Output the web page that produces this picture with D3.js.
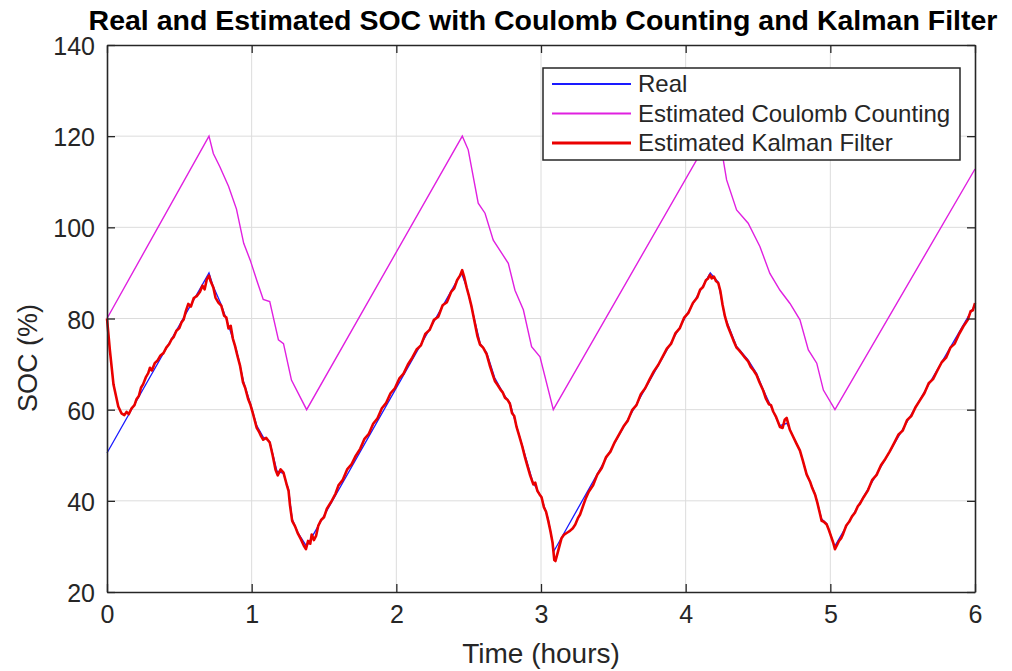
<!DOCTYPE html>
<html>
<head>
<meta charset="utf-8">
<script src="https://cdn.jsdelivr.net/npm/d3@7"></script>
<style>
  html, body { margin: 0; padding: 0; background: #fff; }
  #container { width: 1012px; height: 671px; }
  text { font-family: "Liberation Sans", Arial, sans-serif; }
</style>
</head>
<body>
<div id="container"></div>
<script>
// [hours, SOC %]
const realSoc = [
  [0, 50.5], [0.705, 90], [0.735, 87], [0.79, 83], [0.84, 78.5], [0.9, 72.5], [0.945, 66],
  [0.99, 61.5], [1.035, 56.5], [1.08, 54], [1.125, 53], [1.175, 46.5], [1.22, 46], [1.255, 42.5],
  [1.28, 36], [1.32, 33], [1.38, 30],
  [2.45, 90], [2.49, 86.5], [2.52, 82.5], [2.58, 74.5], [2.625, 72.5], [2.68, 67], [2.75, 63],
  [2.785, 61.5], [2.83, 56.5], [2.89, 50], [2.945, 44], [3.0, 41], [3.05, 36], [3.09, 29],
  [4.17, 90], [4.225, 88], [4.27, 80.5], [4.35, 74], [4.43, 71], [4.49, 68], [4.535, 64.5],
  [4.6, 60], [4.65, 56.5], [4.7, 57], [4.745, 54], [4.79, 51], [4.835, 46], [4.895, 41.5],
  [4.94, 36], [4.975, 35], [5.03, 30],
  [6, 83]
];

const coulombSoc = [
  [0, 80], [0.705, 120], [0.735, 116.2], [0.78, 113.3], [0.84, 109], [0.895, 104], [0.945, 96.5],
  [0.99, 92.8], [1.035, 88.4], [1.08, 84.2], [1.125, 83.7], [1.185, 75.3], [1.22, 74.5],
  [1.275, 66.5], [1.38, 60],
  [2.456, 120], [2.497, 117], [2.566, 105.3], [2.613, 103.1], [2.67, 97.2], [2.774, 92.1],
  [2.82, 86.2], [2.878, 81.9], [2.935, 73.8], [2.993, 71.6], [3.085, 60],
  [4.17, 120], [4.26, 114.8], [4.283, 110.4], [4.352, 103.8], [4.432, 100.9], [4.513, 95.8],
  [4.582, 89.9], [4.652, 86.2], [4.721, 83.3], [4.79, 79.7], [4.848, 73.1], [4.906, 70.2],
  [4.952, 64.3], [5.032, 60],
  [6, 112.8]
];

const kalmanSoc = [
  [0, 80], [0.02, 73], [0.045, 65.5], [0.078, 60.7], [0.1, 59.2], [0.12, 58.8], [0.135, 59.5],
  [0.15, 59.0], [0.17, 60.3], [0.19, 61.0], [0.204, 62.3], [0.22, 63.0], [0.235, 64.8], [0.25, 65.6],
  [0.27, 67.2], [0.285, 68.0], [0.297, 69.2], [0.31, 68.6], [0.33, 70.2], [0.35, 70.8], [0.37, 71.9],
  [0.39, 72.4], [0.41, 73.6], [0.43, 74.4], [0.446, 75.4], [0.46, 75.9], [0.48, 77.3], [0.5, 77.9],
  [0.516, 79.2], [0.53, 79.8], [0.545, 81.6], [0.562, 83.2], [0.58, 82.6], [0.6, 84.5], [0.62, 84.9],
  [0.642, 85.8], [0.66, 87.2], [0.675, 86.4], [0.69, 88.6], [0.705, 89.4], [0.715, 88.3],
  [0.735, 86.8], [0.75, 84.6], [0.77, 83.5], [0.79, 82.8], [0.81, 80.6], [0.825, 80.2], [0.84, 77.8],
  [0.855, 78.4], [0.87, 75.6], [0.885, 74.0], [0.9, 72.0], [0.92, 69.6], [0.94, 66.0], [0.955, 64.8],
  [0.975, 62.4], [0.99, 61.2], [1.01, 59.0], [1.035, 56.0], [1.05, 55.2], [1.065, 54.2], [1.08, 53.4],
  [1.1, 53.8], [1.125, 52.8], [1.145, 50.0], [1.165, 46.8], [1.18, 45.6], [1.2, 46.9], [1.22, 46.2],
  [1.24, 43.8], [1.255, 42.2], [1.265, 39.0], [1.28, 35.6], [1.3, 34.4], [1.32, 32.8], [1.34, 31.6],
  [1.36, 30.2], [1.375, 29.4], [1.39, 31.2], [1.405, 30.6], [1.415, 32.6], [1.43, 31.4], [1.445, 32.3],
  [1.46, 34.5], [1.48, 35.8], [1.5, 36.4], [1.52, 38.3], [1.55, 39.8], [1.58, 41.6], [1.6, 43.4],
  [1.63, 44.6], [1.66, 46.9], [1.69, 48.0], [1.72, 49.9], [1.75, 51.4], [1.78, 53.6], [1.81, 54.7],
  [1.84, 56.9], [1.87, 58.1], [1.9, 60.3], [1.93, 61.5], [1.96, 63.6], [1.99, 64.7], [2.02, 66.8],
  [2.05, 67.9], [2.08, 69.9], [2.11, 71.4], [2.14, 73.2], [2.17, 74.1], [2.2, 76.6], [2.23, 77.5],
  [2.26, 79.7], [2.29, 80.4], [2.32, 82.9], [2.35, 83.6], [2.38, 85.9], [2.4, 86.6], [2.42, 88.4],
  [2.44, 89.4], [2.455, 90.6], [2.47, 89.0],
  [2.486, 86.8], [2.5, 85.2], [2.52, 82.6], [2.54, 79.4], [2.56, 76.2], [2.578, 74.3], [2.6, 73.6],
  [2.624, 72.2], [2.645, 69.8], [2.665, 67.8], [2.681, 66.3], [2.7, 65.4], [2.72, 64.4], [2.735, 63.8],
  [2.751, 62.6], [2.77, 62.1], [2.785, 61.3], [2.8, 59.2], [2.815, 58.6], [2.831, 56.2], [2.85, 54.2],
  [2.87, 52.0], [2.889, 49.6], [2.905, 47.8], [2.925, 45.6], [2.947, 43.6], [2.96, 44.0], [2.975, 42.2],
  [2.99, 41.4], [3.004, 40.8], [3.02, 38.6], [3.035, 37.6], [3.05, 35.6], [3.065, 33.4], [3.08, 30.8],
  [3.092, 27.0], [3.1, 26.8], [3.115, 28.6], [3.13, 30.4], [3.142, 31.8], [3.16, 32.6], [3.18, 33.0],
  [3.2, 33.4], [3.22, 34.0], [3.237, 34.8], [3.255, 36.2], [3.27, 37.0],
  [3.29, 38.8], [3.31, 40.6], [3.33, 42.0], [3.36, 43.4], [3.39, 45.8], [3.42, 47.2], [3.45, 49.6],
  [3.48, 50.8], [3.51, 52.9], [3.54, 54.6], [3.57, 56.3], [3.6, 57.6], [3.63, 59.9], [3.66, 61.0],
  [3.69, 63.4], [3.72, 64.7], [3.75, 66.6], [3.78, 68.4], [3.81, 69.8], [3.84, 71.6], [3.87, 73.4],
  [3.9, 74.5], [3.93, 76.8], [3.96, 77.9], [3.99, 80.2], [4.02, 81.3], [4.05, 83.4], [4.08, 84.6],
  [4.1, 86.3], [4.12, 86.9], [4.14, 88.4], [4.155, 88.8], [4.168, 89.6], [4.18, 88.8], [4.195, 89.2],
  [4.21, 88.2], [4.225, 87.8], [4.24, 86.0],
  [4.255, 83.0], [4.272, 80.4], [4.29, 78.4], [4.31, 76.8], [4.33, 75.2], [4.352, 73.6], [4.37, 73.0],
  [4.39, 72.2], [4.41, 71.4], [4.432, 70.6], [4.45, 69.4], [4.47, 68.6], [4.49, 67.6], [4.51, 66.0],
  [4.536, 64.2], [4.555, 62.4], [4.575, 61.2], [4.59, 61.0], [4.605, 59.6], [4.625, 58.4], [4.652, 56.2],
  [4.67, 56.0], [4.685, 57.8], [4.698, 58.2], [4.72, 55.6], [4.744, 54.0], [4.765, 52.6], [4.79, 51.0],
  [4.81, 48.8], [4.836, 45.8], [4.86, 44.2], [4.875, 42.8], [4.894, 41.4], [4.91, 39.6], [4.925, 37.6],
  [4.94, 35.6], [4.955, 35.4], [4.975, 34.8], [4.99, 33.6], [5.005, 32.2], [5.02, 30.8], [5.032, 29.4],
  [5.045, 30.2], [5.06, 31.2], [5.075, 31.8], [5.089, 32.8], [5.11, 34.6], [5.13, 35.4], [5.15, 36.6],
  [5.17, 37.4], [5.19, 38.8], [5.205, 39.4],
  [5.23, 40.8], [5.26, 42.3], [5.29, 44.6], [5.32, 45.7], [5.35, 47.8], [5.38, 49.2], [5.41, 50.8],
  [5.44, 52.6], [5.47, 54.5], [5.5, 55.4], [5.53, 57.7], [5.56, 58.6], [5.59, 60.6], [5.62, 62.1],
  [5.65, 63.6], [5.68, 65.8], [5.71, 66.7], [5.74, 68.6], [5.77, 70.4], [5.8, 71.4], [5.83, 73.6],
  [5.86, 74.5], [5.89, 76.6], [5.92, 78.3], [5.95, 79.7], [5.97, 81.6], [5.985, 81.8], [6, 83.4]
];

const xTicks = [0, 1, 2, 3, 4, 5, 6];
const yTicks = [20, 40, 60, 80, 100, 120, 140];

const seriesNames = ["Real", "Estimated Coulomb Counting", "Estimated Kalman Filter"];
const seriesColors = ["#1a1aff", "#e020e0", "#ea0000"];

const margin = {top: 45, right: 37, bottom: 79, left: 107};
const width = 1012 - margin.left - margin.right;
const height = 671 - margin.top - margin.bottom;

const svg = d3.select("#container")
  .append("svg")
  .attr("width", 1012)
  .attr("height", 671);

const g = svg.append("g")
  .attr("transform", `translate(${margin.left},${margin.top})`);

const x = d3.scaleLinear().domain([0, 6]).range([0, width]);
const y = d3.scaleLinear().domain([20, 140]).range([height, 0]);

// grid
g.append("g")
  .selectAll("line")
  .data(xTicks.slice(1, -1))
  .enter()
  .append("line")
  .attr("x1", d => x(d)).attr("x2", d => x(d))
  .attr("y1", 0).attr("y2", height)
  .attr("stroke", "#dcdcdc")
  .attr("stroke-width", 1);

g.append("g")
  .selectAll("line")
  .data(yTicks.slice(1, -1))
  .enter()
  .append("line")
  .attr("x1", 0).attr("x2", width)
  .attr("y1", d => y(d)).attr("y2", d => y(d))
  .attr("stroke", "#dcdcdc")
  .attr("stroke-width", 1);

const line = d3.line()
  .x(d => x(d[0]))
  .y(d => y(d[1]));

g.append("path")
  .datum(realSoc)
  .attr("fill", "none")
  .attr("stroke", seriesColors[0])
  .attr("stroke-width", 1.3)
  .attr("d", line);

g.append("path")
  .datum(coulombSoc)
  .attr("fill", "none")
  .attr("stroke", seriesColors[1])
  .attr("stroke-width", 1.4)
  .attr("d", line);

g.append("path")
  .datum(kalmanSoc)
  .attr("fill", "none")
  .attr("stroke", seriesColors[2])
  .attr("stroke-width", 2.6)
  .attr("stroke-linejoin", "round")
  .attr("d", line);

// axes, ticks pointing inward, on all four sides
const tickLen = 8;
const axisColor = "#262626";

const xAxis = g.append("g")
  .attr("transform", `translate(0,${height})`)
  .call(d3.axisBottom(x).tickValues(xTicks).tickFormat(d3.format("d"))
    .tickSizeInner(-tickLen).tickSizeOuter(0).tickPadding(12));
const xTop = g.append("g")
  .call(d3.axisTop(x).tickValues(xTicks).tickSizeInner(-tickLen).tickSizeOuter(0).tickFormat(""));
const yAxis = g.append("g")
  .call(d3.axisLeft(y).tickValues(yTicks).tickSizeInner(-tickLen).tickSizeOuter(0).tickPadding(12));
const yRight = g.append("g")
  .attr("transform", `translate(${width},0)`)
  .call(d3.axisRight(y).tickValues(yTicks).tickSizeInner(-tickLen).tickSizeOuter(0).tickFormat(""));

[xAxis, xTop, yAxis, yRight].forEach(a => {
  a.select(".domain").attr("stroke", axisColor).attr("stroke-width", 1.6);
  a.selectAll(".tick line").attr("stroke", axisColor).attr("stroke-width", 1.3);
  a.selectAll("text")
    .attr("fill", axisColor)
    .style("font-size", "25px")
    .style("font-family", "'Liberation Sans', Arial, sans-serif");
});
xAxis.selectAll("text").attr("dy", "0.75em");
yAxis.selectAll("text").attr("dy", "0.38em");

// title
svg.append("text")
  .attr("x", margin.left + width / 2 + 2)
  .attr("y", 30)
  .attr("text-anchor", "middle")
  .attr("fill", "#000")
  .style("font-size", "28.5px")
  .style("font-weight", "bold")
  .text("Real and Estimated SOC with Coulomb Counting and Kalman Filter");

svg.append("text")
  .attr("x", margin.left + width / 2)
  .attr("y", 663)
  .attr("text-anchor", "middle")
  .attr("fill", axisColor)
  .style("font-size", "28px")
  .text("Time (hours)");

svg.append("text")
  .attr("transform", `translate(37,358) rotate(-90)`)
  .attr("text-anchor", "middle")
  .attr("fill", axisColor)
  .style("font-size", "27px")
  .text("SOC (%)");

// legend
const legend = svg.append("g").attr("transform", "translate(543,68)");
legend.append("rect")
  .attr("width", 417)
  .attr("height", 92)
  .attr("fill", "#fff")
  .attr("stroke", axisColor)
  .attr("stroke-width", 1.5);

seriesNames.forEach((name, i) => {
  const cy = 16 + i * 29.5;
  legend.append("line")
    .attr("x1", 9).attr("x2", 88)
    .attr("y1", cy).attr("y2", cy)
    .attr("stroke", seriesColors[i])
    .attr("stroke-width", i === 2 ? 3 : 2);
  legend.append("text")
    .attr("x", 95)
    .attr("y", cy + 8)
    .attr("fill", axisColor)
    .style("font-size", "24px")
    .text(name);
});
</script>
</body>
</html>
